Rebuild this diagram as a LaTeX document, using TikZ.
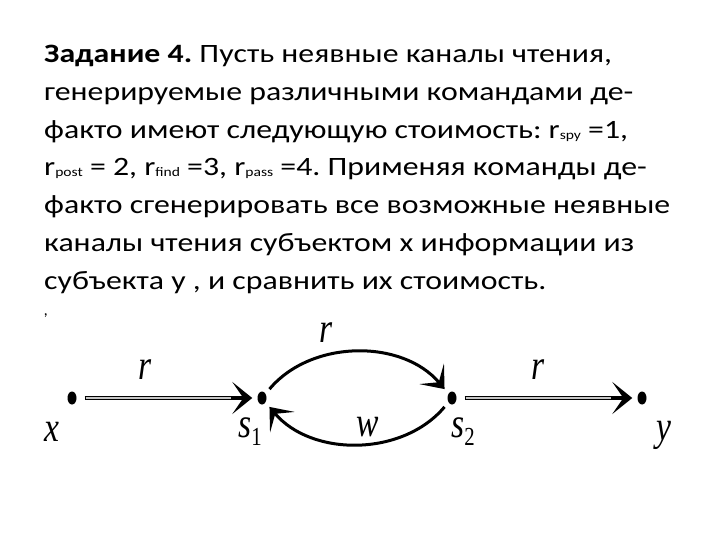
\documentclass[tikz,border=0pt]{standalone}
\usepackage{fontspec}
\setmainfont{Carlito}
\newfontfamily\taskfont[FakeStretch=1.2]{Carlito}
\newfontfamily\lblfont[FakeStretch=0.8]{Liberation Serif}
\usetikzlibrary{arrows.meta,shapes.geometric}

\tikzset{
  dot/.style={ellipse, fill=black, inner sep=0pt, minimum width=9pt, minimum height=13pt},
  lbl/.style={font=\lblfont\itshape\fontsize{42}{42}\selectfont, inner sep=0pt},
  tip/.style={-{Stealth[length=20pt,width=32pt,inset=11pt]}},
  chan/.style={tip, line width=4.5pt, shorten <=8pt, shorten >=5pt},
  loop/.style={tip, line width=3pt, shorten <=6pt, shorten >=6pt},
}
\newcommand{\sub}[1]{\raisebox{-1pt}{\fontsize{13}{13}\selectfont #1}}

\begin{document}
\begin{tikzpicture}[x=1pt, y=-1pt]
  \useasboundingbox[fill=white] (0,0) rectangle (720,540);

  % task text (base = last line)
  \node[anchor=base west, inner sep=0pt, align=left,
        font=\taskfont\frenchspacing\fontsize{26.5}{37.7}\selectfont] (task) at (44,289)
    {\textbf{Задание 4.} Пусть неявные каналы чтения,\\
     генерируемые различными командами де-\\
     факто имеют следующую стоимость: r\sub{spy} =1,\\
     r\sub{post} = 2, r\sub{find} =3, r\sub{pass} =4. Применяя команды де-\\
     факто сгенерировать все возможные неявные\\
     каналы чтения субъектом х информации из\\
     субъекта у , и сравнить их стоимость.};
  \node[inner sep=0pt, font=\itshape\fontsize{16}{16}\selectfont] (mark) at (46,316) {,};

  % subjects
  \node[dot] (x) at (72,398) {};
  \node[dot] (s1) at (262,398) {};
  \node[dot] (s2) at (452,398) {};
  \node[dot] (y) at (642,398) {};
  \node[lbl] (xl) at (52,432) {x};
  \node[lbl] (s1l) at (250,432) {s\raisebox{-8pt}{\fontsize{26}{26}\selectfont\upshape 1}};
  \node[lbl] (s2l) at (463,432) {s\raisebox{-8pt}{\fontsize{26}{26}\selectfont\upshape 2}};
  \node[lbl] (yl) at (664,435) {y};

  % channels
  \draw[chan] (x) -- (s1) node[lbl, pos=0.38, above=16pt] (r1) {r};
  \draw[line width=1.5pt, gray!45, shorten <=9pt, shorten >=26pt] (x) -- (s1);
  \draw[chan] (s2) -- (y) node[lbl, pos=0.45, above=16pt] (r3) {r};
  \draw[line width=1.5pt, gray!45, shorten <=9pt, shorten >=26pt] (s2) -- (y);
  \draw[loop] (s1) to[out=50, in=130] node[lbl, pos=0.35, above=12pt] (r2) {r} (s2);
  \draw[loop] (s2) to[out=-130, in=-50] node[lbl, pos=0.45, above=4pt] (w) {w} (s1);
\end{tikzpicture}
\end{document}
